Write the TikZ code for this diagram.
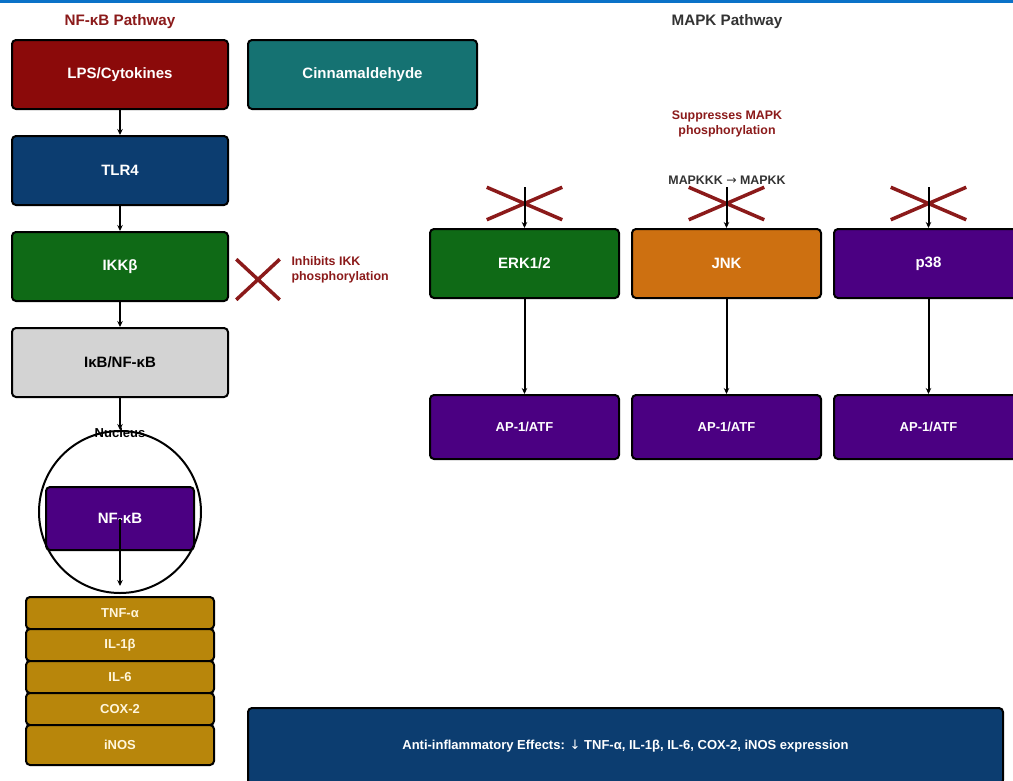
\documentclass[tikz,border=0pt]{standalone}
\usepackage{fontspec}
\setmainfont{Liberation Sans}
\newfontfamily\arrowfont{DejaVu Sans}
\usepackage{tikz}
\usetikzlibrary{arrows.meta}
\usetikzlibrary{positioning}
\usetikzlibrary{shapes.misc}
\definecolor{lpsred}{HTML}{8B0A0A}
\definecolor{cinteal}{HTML}{157272}
\definecolor{tlrnavy}{HTML}{0C3D70}
\definecolor{kgreen}{HTML}{0F6A16}
\definecolor{ikbgray}{HTML}{D3D3D3}
\definecolor{nfpurple}{HTML}{4B0082}
\definecolor{jnkorange}{HTML}{CD7011}
\definecolor{cytogold}{HTML}{B8860B}
\definecolor{cytotext}{HTML}{FFF6DC}
\definecolor{notered}{HTML}{8B1A1A}
\definecolor{titlegray}{HTML}{333333}
\definecolor{topblue}{HTML}{0A72C8}

\begin{document}
\begin{tikzpicture}[x=1pt, y=-1pt,
	box/.style={draw=black, line width=2pt, rounded corners=4pt, inner sep=0pt,
		text=white, font=\bfseries\fontsize{15}{17}\selectfont},
	leftbox/.style={box, minimum width=216pt, minimum height=69pt},
	mapkbox/.style={box, minimum width=189pt, minimum height=69pt},
	apbox/.style={box, fill=nfpurple, minimum width=189pt, minimum height=64pt,
		font=\bfseries\fontsize{13}{15}\selectfont},
	cytobox/.style={box, fill=cytogold, minimum width=188pt, text=cytotext,
		font=\bfseries\fontsize{13}{15}\selectfont},
	arr/.style={-{Stealth[length=6pt, width=5.5pt]}, line width=2pt},
	blockx/.style={cross out, draw=notered, line width=3.5pt, inner sep=0pt},
	note/.style={font=\bfseries\fontsize{12.4}{15}\selectfont, text=notered, align=center},
	title/.style={font=\bfseries\fontsize{15.2}{17}\selectfont}
	]
	\useasboundingbox (0,0) rectangle (1013,780);
	\fill[topblue] (0,0) rectangle (1013,2.5);
	
	\node[title, text=notered] (nftitle) at (120,22) {NF-κB Pathway};
	\node[title, text=titlegray] (mapktitle) at (727,22) {MAPK Pathway};
	
	\node[leftbox, fill=lpsred] (lps) at (120,74.5) {LPS/Cytokines};
	\node[box, fill=cinteal, minimum width=229pt, minimum height=69pt]
		(cinn) at (362.5,74.5) {Cinnamaldehyde};
	\node[leftbox, fill=tlrnavy, below=25pt of lps] (tlr) {TLR4};
	\node[leftbox, fill=kgreen, below=25pt of tlr] (ikk) {IKKβ};
	\node[leftbox, fill=ikbgray, text=black, below=25pt of ikk] (ikb) {IκB/NF-κB};
	
	\draw[arr] (lps) -- (tlr);
	\draw[arr] (tlr) -- (ikk);
	\draw[arr] (ikk) -- (ikb);
	
	\node[blockx, minimum width=40pt, minimum height=37pt] (ikkx) at (258,279.5) {};
	\node[note, align=left, anchor=west] (ikknote) at (288,270) {Inhibits IKK\\phosphorylation};
	
	\node[box, fill=nfpurple, minimum width=148pt, minimum height=63pt] (nfkb) at (120,518.5) {NF-κB};
	\node[circle, draw=black, line width=2pt, minimum size=162pt, inner sep=0pt] (nuc) at (120,512) {};
	\draw[arr] (ikb) -- (nuc.north);
	\draw[arr] (nfkb.center) -- ([yshift=8pt]nuc.south);
	\node[font=\bfseries\fontsize{13}{15}\selectfont] (nuclabel) at (120,433) {Nucleus};
	
	\foreach \lbl/\yc/\h [count=\i] in {TNF-α/613/32, IL-1β/645/32, IL-6/677/32, COX-2/709/32, iNOS/745/40}{
		\node[cytobox, minimum height=\h pt] (cyto\i) at (120,\yc) {\lbl};
	}
	
	\node[note] (supnote) at (727,123.5) {Suppresses MAPK\\phosphorylation};
	\node[font=\bfseries\fontsize{12.4}{14}\selectfont, text=titlegray]
		(cascade) at (727,180) {MAPKKK {\arrowfont\mdseries →} MAPKK};
	
	\foreach \id/\lbl/\xc/\col in {erk/{ERK1/2}/524.5/kgreen, jnk/JNK/726.5/jnkorange, p38/p38/928.5/nfpurple}{
		\node[mapkbox, fill=\col] (\id) at (\xc,263.5) {\lbl};
		\node[apbox, below=95pt of \id] (ap\id) {AP-1/ATF};
		\coordinate (\id top) at (\xc,187);
		\node[blockx, minimum width=72pt, minimum height=29pt] (\id x) at (\xc,203.5) {};
		\draw[arr] (\id top) -- (\id);
		\draw[arr] (\id) -- (ap\id);
	}
	
	\node[box, fill=tlrnavy, minimum width=755pt, minimum height=76pt,
		font=\bfseries\fontsize{13}{15}\selectfont]
		(effects) at (625.5,746) {Anti-inflammatory Effects: {\arrowfont\mdseries ↓} TNF-α, IL-1β, IL-6, COX-2, iNOS expression};
\end{tikzpicture}
\end{document}
